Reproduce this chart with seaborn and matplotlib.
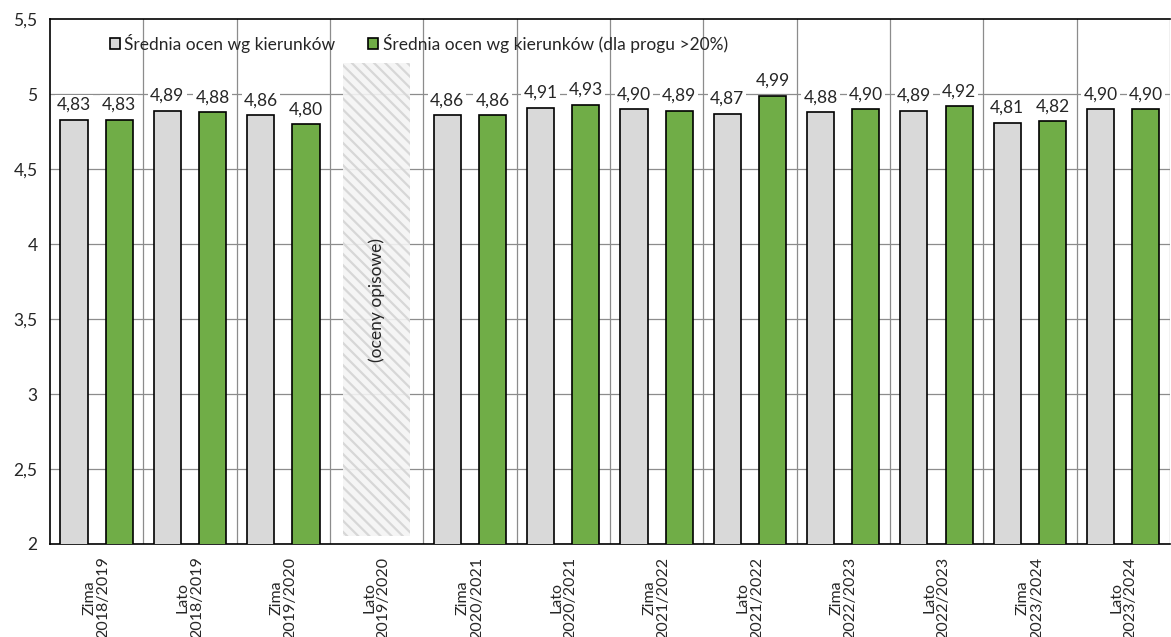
import numpy as np
import pandas as pd
import matplotlib
matplotlib.use("Agg")
import matplotlib.pyplot as plt
import seaborn as sns

# ---- data ----
categories = ["Zima\n2018/2019", "Lato\n2018/2019", "Zima\n2019/2020", "Lato\n2019/2020",
              "Zima\n2020/2021", "Lato\n2020/2021", "Zima\n2021/2022", "Lato\n2021/2022",
              "Zima\n2022/2023", "Lato\n2022/2023", "Zima\n2023/2024", "Lato\n2023/2024"]
series_all = [4.83, 4.89, 4.86, np.nan, 4.86, 4.91, 4.90, 4.87, 4.88, 4.89, 4.81, 4.90]
series_20 = [4.83, 4.88, 4.80, np.nan, 4.86, 4.93, 4.89, 4.99, 4.90, 4.92, 4.82, 4.90]
series_names = ["Średnia ocen wg kierunków", "Średnia ocen wg kierunków (dla progu >20%)"]
placeholder_category = "Lato\n2019/2020"
placeholder_text = "(oceny opisowe)"
placeholder_range = [2.05, 5.21]
y_ticks = [2, 2.5, 3, 3.5, 4, 4.5, 5, 5.5]

sns.set_theme(style="white")
plt.rcParams["font.family"] = ["Lato", "DejaVu Sans"]
plt.rcParams["hatch.color"] = "#d4d4d4"
plt.rcParams["hatch.linewidth"] = 1.6

FS = 12.5

df = pd.DataFrame({
    "cat": categories * 2,
    "val": series_all + series_20,
    "series": [series_names[0]] * len(categories) + [series_names[1]] * len(categories),
})

fig = plt.figure(figsize=(11.71, 6.37), dpi=100)
ax = fig.add_axes([0.0427, 0.146, 0.9563, 0.824])

palette = {series_names[0]: "#d9d9d9", series_names[1]: "#70ad47"}
sns.barplot(data=df, x="cat", y="val", hue="series", order=categories,
            hue_order=series_names, palette=palette, width=0.97, gap=0.4,
            edgecolor="black", linewidth=1.2, saturation=1, ax=ax, zorder=3,
            errorbar=None)

ax.set_ylim(y_ticks[0], y_ticks[-1])
ax.set_xlim(-0.5, len(categories) - 0.5)
ax.set_yticks(y_ticks)
ax.set_yticklabels([f"{t:g}".replace(".", ",") for t in y_ticks], fontsize=FS)
ax.set_xticks(range(len(categories)))
ax.set_xticklabels(categories, rotation=90, fontsize=11.5, linespacing=1.0)
ax.set_xlabel("")
ax.set_ylabel("")
ax.tick_params(axis="y", length=0, pad=9)
ax.tick_params(axis="x", length=0, pad=9)

# gridlines & separators
for t in y_ticks[1:-1]:
    ax.axhline(t, color="#8c8c8c", lw=0.9, zorder=1)
for i in range(len(categories)):
    ax.axvline(i + 0.5, color="#8c8c8c", lw=0.9, zorder=1)

for s in ["left", "bottom", "top"]:
    ax.spines[s].set_color("black")
    ax.spines[s].set_linewidth(1.2)
ax.spines["right"].set_visible(False)

# value labels
for cont in ax.containers:
    for bar in cont:
        h = bar.get_height()
        if np.isnan(h):
            continue
        ax.annotate(f"{h:.2f}".replace(".", ","),
                    (bar.get_x() + bar.get_width() / 2, h),
                    xytext=(0, 5), textcoords="offset points",
                    ha="center", va="bottom", fontsize=FS, zorder=4,
                    bbox=dict(facecolor="white", edgecolor="none", pad=1.5))

# placeholder
pi = categories.index(placeholder_category)
ax.bar(pi, placeholder_range[1] - placeholder_range[0], bottom=placeholder_range[0],
       width=0.71, facecolor="#f4f4f4", edgecolor="#d4d4d4", hatch="\\\\\\",
       linewidth=0, zorder=2, alpha=0.9)
ax.text(pi, 3.63, placeholder_text, rotation=90, ha="center", va="center",
        fontsize=FS, zorder=4)

# legend
handles, labels = ax.get_legend_handles_labels()
leg = ax.legend(handles, labels, loc="center left", bbox_to_anchor=(0.047, 0.954),
                ncol=2, frameon=False, fontsize=FS, handlelength=0.58,
                handleheight=0.58, handletextpad=0.25, columnspacing=1.9,
                borderaxespad=0)

fig.savefig("out.png", dpi=100)
